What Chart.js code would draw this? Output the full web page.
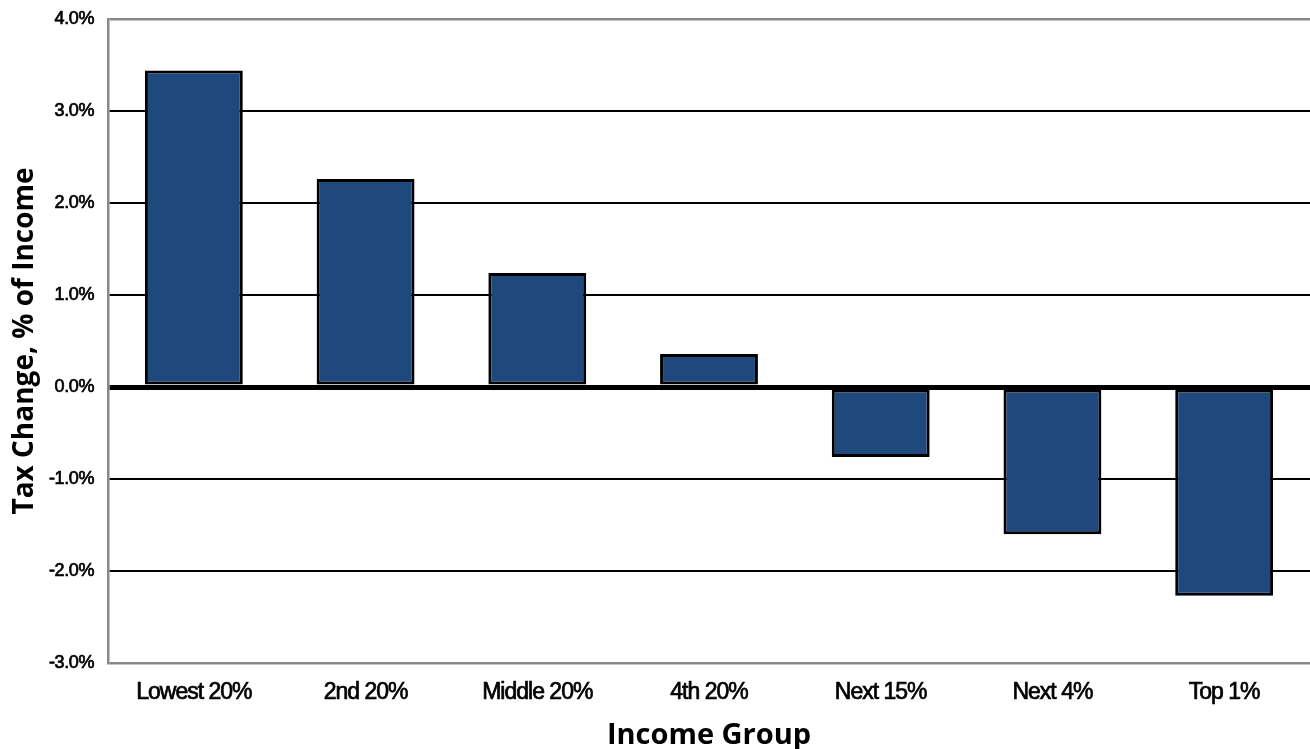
<!DOCTYPE html>
<html>
<head>
<meta charset="utf-8">
<script src="https://cdn.jsdelivr.net/npm/chart.js@4/dist/chart.umd.min.js"></script>
<style>
  html, body { margin: 0; padding: 0; background: #fff; }
  #wrap { width: 1310px; height: 749px; position: relative; }
</style>
</head>
<body>
<div id="wrap"><canvas id="c"></canvas></div>
<script>
const categories = ['Lowest 20%', '2nd 20%', 'Middle 20%', '4th 20%', 'Next 15%', 'Next 4%', 'Top 1%'];
const taxChange = [3.44, 2.26, 1.24, 0.36, -0.76, -1.60, -2.27];
const yTicks = [-3, -2, -1, 0, 1, 2, 3, 4];
const yTitle = 'Tax Change, % of Income';
const xTitle = 'Income Group';

// tight tracking for tick labels, as in the reference
const origDrawLabels = Chart.Scale.prototype.drawLabels;
Chart.Scale.prototype.drawLabels = function (area) {
  const ctx = this.ctx;
  const prev = ctx.letterSpacing;
  ctx.letterSpacing = this.axis === 'x' ? '-1px' : '-0.4px';
  origDrawLabels.call(this, area);
  ctx.letterSpacing = prev || '0px';
};

const sans = "'Liberation Sans', Arial, sans-serif";

new Chart(document.getElementById('c'), {
  type: 'bar',
  data: {
    labels: categories,
    datasets: [{
      data: taxChange,
      backgroundColor: '#1f487c',
      borderColor: '#000000',
      borderWidth: 3,
      borderSkipped: false,
      categoryPercentage: 1,
      barPercentage: 0.57
    }]
  },
  options: {
    responsive: true,
    maintainAspectRatio: false,
    animation: false,
    layout: { padding: { top: 19, right: 0, left: 0, bottom: 0 } },
    plugins: { legend: { display: false }, tooltip: { enabled: false } },
    scales: {
      x: {
        grid: { display: false, drawTicks: false },
        border: { display: false },
        ticks: { color: '#000', font: { family: sans, size: 23 }, padding: 16, maxRotation: 0,
                 textStrokeColor: '#000', textStrokeWidth: 0.7 },
        title: { display: true, text: xTitle, color: '#000',
                 font: { family: "'Open Sans', sans-serif", size: 29, weight: 'bold' },
                 padding: { top: 0, bottom: -4 } },
        afterFit: s => { s.height = 86; s.paddingLeft = 0; s.paddingRight = 0; }
      },
      y: {
        min: -3, max: 4,
        afterBuildTicks: s => { s.ticks = yTicks.map(v => ({ value: v })); },
        ticks: { color: '#000', font: { family: sans, size: 18 }, padding: 14,
                 textStrokeColor: '#000', textStrokeWidth: 0.7,
                 callback: v => v.toFixed(1) + '%' },
        grid: {
          drawTicks: false,
          color: c => (c.tick.value === 4 || c.tick.value === -3) ? '#888888' : '#000000',
          lineWidth: c => c.tick.value === 0 ? 5 : ((c.tick.value === 4 || c.tick.value === -3) ? 2.5 : 2)
        },
        border: { display: true, color: '#888888', width: 2.5 },
        title: { display: true, text: yTitle, color: '#000',
                 font: { family: "'Open Sans', sans-serif", size: 28, weight: 'bold' },
                 padding: { top: 8, bottom: 0 } },
        afterFit: s => { s.width = 108; s.paddingTop = 0; s.paddingBottom = 0; }
      }
    }
  }
});
</script>
</body>
</html>
